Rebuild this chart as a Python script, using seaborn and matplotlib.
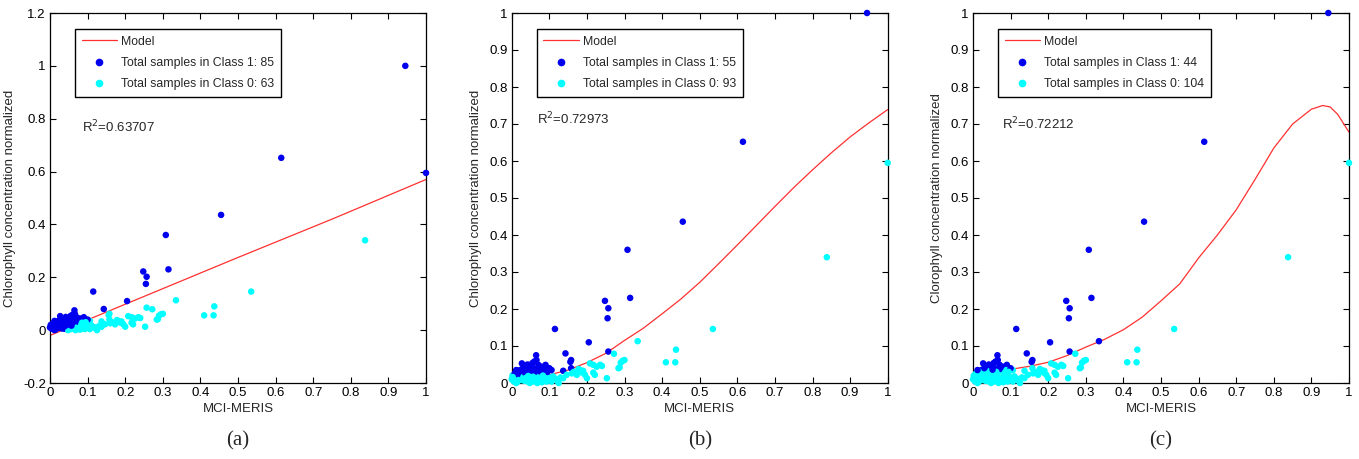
import numpy as np
import pandas as pd
import seaborn as sns
import matplotlib.pyplot as plt
from matplotlib.lines import Line2D
from matplotlib.ticker import FuncFormatter

# samples (MCI-MERIS, chlorophyll normalized)
mci = [0.945, 1.0, 0.615, 0.455, 0.308, 0.315, 0.248, 0.257, 0.255, 0.838,
       0.535, 0.115, 0.205, 0.335, 0.257, 0.143, 0.272, 0.437, 0.41, 0.435,
       0.3, 0.295, 0.29, 0.287, 0.158, 0.156, 0.158, 0.137, 0.253,
       # mid cyan band
       0.137, 0.123, 0.114, 0.106, 0.097, 0.146, 0.16, 0.173, 0.182, 0.188,
       0.195, 0.208, 0.217, 0.226, 0.235, 0.217, 0.221, 0.2, 0.284, 0.165,
       0.178, 0.19, 0.24,
       # low cluster
       0.005, 0.01, 0.015, 0.02, 0.025, 0.03, 0.035, 0.04, 0.045, 0.05,
       0.055, 0.06, 0.065, 0.07, 0.075, 0.08, 0.085, 0.09, 0.095, 0.1,
       0.0, 0.002, 0.012, 0.028, 0.048, 0.068, 0.11, 0.12, 0.125, 0.13,
       0.065, 0.06, 0.055, 0.04, 0.027, 0.022, 0.071, 0.08, 0.09, 0.089,
       0.076, 0.045, 0.035, 0.049, 0.02, 0.008, 0.106, 0.1, 0.058, 0.066,
       0.05, 0.03, 0.015, 0.072, 0.085, 0.062, 0.042, 0.052, 0.095, 0.012,
       0.003, 0.018, 0.033, 0.038, 0.057, 0.078, 0.083, 0.092, 0.01, 0.044]
chl = [1.0, 0.595, 0.652, 0.436, 0.36, 0.23, 0.222, 0.202, 0.175, 0.34,
       0.146, 0.146, 0.11, 0.113, 0.085, 0.08, 0.079, 0.09, 0.056, 0.056,
       0.062, 0.06, 0.055, 0.042, 0.062, 0.057, 0.04, 0.033, 0.013,
       0.013, 0.004, 0.013, 0.004, 0.008, 0.022, 0.026, 0.022, 0.035, 0.028,
       0.022, 0.053, 0.049, 0.044, 0.049, 0.028, 0.022, 0.013, 0.04, 0.03,
       0.038, 0.033, 0.046,
       0.005, 0.012, 0.003, 0.015, 0.008, 0.01, 0.018, 0.005, 0.012, 0.015,
       0.004, 0.01, 0.018, 0.007, 0.014, 0.002, 0.012, 0.018, 0.008, 0.015,
       0.01, 0.02, 0.0, 0.02, 0.0, 0.0, 0.018, 0.01, 0.0, 0.015,
       0.075, 0.058, 0.054, 0.044, 0.053, 0.035, 0.049, 0.044, 0.049, 0.035,
       0.031, 0.033, 0.028, 0.026, 0.03, 0.026, 0.035, 0.04, 0.04, 0.062,
       0.045, 0.04, 0.022, 0.038, 0.028, 0.03, 0.05, 0.036, 0.03, 0.035,
       0.016, 0.008, 0.006, 0.014, 0.017, 0.009, 0.02, 0.004, 0.006, 0.019]

# fitted model curves
model_a_x = [0.0, 0.5, 0.75, 1.0]
model_a_y = [-0.02, 0.275, 0.42, 0.57]
model_b_x = [0.08, 0.1, 0.15, 0.2, 0.25, 0.3, 0.35, 0.4, 0.45, 0.5,
             0.55, 0.6, 0.65, 0.7, 0.75, 0.8, 0.85, 0.9, 0.95, 1.0]
model_b_y = [0.02, 0.022, 0.035, 0.055, 0.08, 0.115, 0.148, 0.187, 0.227, 0.272,
             0.322, 0.373, 0.425, 0.477, 0.528, 0.576, 0.622, 0.665, 0.703, 0.739]
model_c_x = [0.08, 0.1, 0.15, 0.2, 0.25, 0.3, 0.35, 0.4, 0.45, 0.5, 0.55,
             0.6, 0.65, 0.7, 0.75, 0.8, 0.85, 0.9, 0.93, 0.95, 0.97, 1.0]
model_c_y = [0.034, 0.037, 0.045, 0.056, 0.074, 0.097, 0.118, 0.144, 0.178, 0.222, 0.268,
             0.338, 0.4, 0.468, 0.55, 0.635, 0.7, 0.74, 0.75, 0.746, 0.726, 0.678]

panel_labels = ['(a)', '(b)', '(c)']
r2_texts = ['0.63707', '0.72973', '0.72212']
class1_counts = [85, 55, 44]
class0_counts = [63, 93, 104]
ylabels = ['Chlorophyll concentration normalized',
           'Chlorophyll concentration normalized',
           'Clorophyll concentration normalized']

sns.set_style('ticks')
plt.rcParams['font.family'] = ['Liberation Sans', 'DejaVu Sans']

fig = plt.figure(figsize=(13.59, 4.59), dpi=100)
lefts = [50 / 1359, 511.7 / 1359, 973 / 1359]
width = 376 / 1359
bottom = 1 - 383 / 459
height = 370 / 459

models = [(model_a_x, model_a_y), (model_b_x, model_b_y), (model_c_x, model_c_y)]
ylims = [(-0.2, 1.2), (0, 1), (0, 1)]
r2_pos = [(0.085, 0.75), (0.066, 0.70), (0.077, 0.685)]

df = pd.DataFrame({'mci': mci, 'chl': chl})

for i in range(3):
    ax = fig.add_axes([lefts[i], bottom, width, height])
    mx, my = models[i]
    # class 1 = above the model, class 0 = below
    cls = np.where(df['chl'].values > np.interp(df['mci'].values, mx, my), 'Class 1', 'Class 0')
    d = df.assign(cls=cls)
    sns.scatterplot(data=d, x='mci', y='chl', hue='cls',
                    palette={'Class 1': '#0000ee', 'Class 0': '#00ffff'},
                    hue_order=['Class 0', 'Class 1'],
                    s=22, linewidth=0, ax=ax, legend=False, clip_on=False, zorder=3)
    sns.lineplot(x=mx, y=my, color='#ff3030', linewidth=0.9, ax=ax, zorder=2)

    ax.set_xlim(0, 1)
    ax.set_ylim(*ylims[i])
    ax.set_xticks(np.arange(0, 1.01, 0.1))
    if i == 0:
        ax.set_yticks(np.arange(-0.2, 1.21, 0.2))
    else:
        ax.set_yticks(np.arange(0, 1.01, 0.1))
    fmt = FuncFormatter(lambda v, p: '%g' % round(v, 2))
    ax.xaxis.set_major_formatter(fmt)
    ax.yaxis.set_major_formatter(fmt)
    ax.tick_params(direction='in', length=4, width=0.8, top=True, right=True,
                   labelsize=9.5, pad=3, colors='black')
    for sp in ax.spines.values():
        sp.set_visible(True)
        sp.set_color('black')
        sp.set_linewidth(0.9)

    ax.set_xlabel('MCI-MERIS', fontsize=9.5, labelpad=3)
    ax.set_ylabel(ylabels[i], fontsize=9.5, labelpad=5)

    ax.text(r2_pos[i][0], r2_pos[i][1], 'R$^2$=' + r2_texts[i], fontsize=9.5,
            transform=ax.transData)

    handles = [Line2D([], [], color='#ff3030', linewidth=0.9),
               Line2D([], [], color='#0000ee', marker='o', linestyle='none', markersize=4.5),
               Line2D([], [], color='#00ffff', marker='o', linestyle='none', markersize=4.5)]
    labels = ['Model',
              'Total samples in Class 1: %d' % class1_counts[i],
              'Total samples in Class 0: %d' % class0_counts[i]]
    leg = ax.legend(handles, labels, loc='upper left', bbox_to_anchor=(0.066, 0.957),
                    fontsize=8.8, frameon=True, fancybox=False, framealpha=1,
                    edgecolor='black', handlelength=2.9, borderpad=0.55,
                    labelspacing=0.75, handletextpad=0.35, borderaxespad=0)
    leg.get_frame().set_linewidth(1.0)

    fig.text(lefts[i] + width / 2, 1 - 441 / 459, panel_labels[i],
             family='Liberation Serif', fontsize=15, ha='center', va='center')

plt.savefig('out.png', dpi=100)
